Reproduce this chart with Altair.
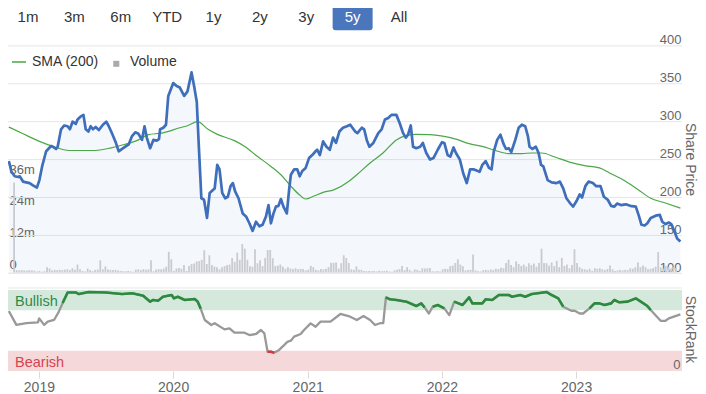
import altair as alt
import pandas as pd

# ---------------- data ----------------
BUTTONS = ["1m", "3m", "6m", "YTD", "1y", "2y", "3y", "5y", "All"]
SELECTED_BUTTON = "5y"

X_START = "2018-10-09"
X_END = "2023-10-16"
YEAR_TICKS = [2019, 2020, 2021, 2022, 2023]
PRICE_TICKS = [100, 150, 200, 250, 300, 350, 400]
VOLUME_TICKS = [0, 12, 24, 36]
RANK_TICKS = [0]
BANDS = ["Bullish", "Bearish"]
BAND_LOW = [75, 0]
BAND_HIGH = [100, 25]

# share price (decimal year, price)
PRICE_T = [
    2018.776, 2018.796, 2018.820, 2018.845, 2018.857, 2018.882, 2018.906, 2018.931, 2018.956, 2018.985,
    2019.004, 2019.024, 2019.054, 2019.091, 2019.103, 2019.128, 2019.140, 2019.165, 2019.189, 2019.214,
    2019.231, 2019.251, 2019.275, 2019.288, 2019.312, 2019.332, 2019.349, 2019.369, 2019.386, 2019.403,
    2019.423, 2019.447, 2019.477, 2019.502, 2019.521, 2019.546, 2019.570, 2019.595, 2019.620, 2019.644,
    2019.669, 2019.694, 2019.718, 2019.742, 2019.768, 2019.787, 2019.804, 2019.829, 2019.853, 2019.878,
    2019.895, 2019.903, 2019.927, 2019.947, 2019.964, 2019.982, 2020.001, 2020.026, 2020.050, 2020.082,
    2020.107, 2020.137, 2020.156, 2020.176, 2020.190, 2020.210, 2020.230, 2020.252, 2020.272, 2020.296,
    2020.309, 2020.328, 2020.345, 2020.365, 2020.387, 2020.407, 2020.427, 2020.444, 2020.461, 2020.486,
    2020.517, 2020.542, 2020.567, 2020.591, 2020.616, 2020.641, 2020.665, 2020.690, 2020.709, 2020.727,
    2020.746, 2020.764, 2020.783, 2020.801, 2020.820, 2020.845, 2020.862, 2020.875, 2020.899, 2020.923,
    2020.941, 2020.960, 2020.985, 2021.010, 2021.034, 2021.059, 2021.071, 2021.091, 2021.115, 2021.140,
    2021.165, 2021.189, 2021.211, 2021.236, 2021.263, 2021.292, 2021.317, 2021.354, 2021.371, 2021.403,
    2021.421, 2021.440, 2021.460, 2021.489, 2021.526, 2021.551, 2021.576, 2021.600, 2021.624, 2021.661,
    2021.686, 2021.711, 2021.731, 2021.748, 2021.768, 2021.785, 2021.809, 2021.838, 2021.858, 2021.883,
    2021.912, 2021.937, 2021.969, 2022.001, 2022.018, 2022.043, 2022.063, 2022.087, 2022.104, 2022.134,
    2022.159, 2022.185, 2022.210, 2022.240, 2022.281, 2022.301, 2022.326, 2022.351, 2022.370, 2022.387,
    2022.412, 2022.436, 2022.461, 2022.478, 2022.498, 2022.517, 2022.547, 2022.572, 2022.596, 2022.621,
    2022.641, 2022.653, 2022.675, 2022.700, 2022.720, 2022.739, 2022.756, 2022.768, 2022.788, 2022.818,
    2022.855, 2022.879, 2022.904, 2022.928, 2022.953, 2022.978, 2023.002, 2023.027, 2023.044, 2023.069,
    2023.093, 2023.125, 2023.150, 2023.182, 2023.207, 2023.236, 2023.261, 2023.285, 2023.305, 2023.334,
    2023.371, 2023.403, 2023.445, 2023.469, 2023.487, 2023.511, 2023.531, 2023.556, 2023.593, 2023.624,
    2023.642, 2023.666, 2023.691, 2023.709, 2023.733, 2023.753, 2023.777,
]
PRICE_V = [
    248, 234, 228, 227, 228, 221, 220, 219, 216, 213,
    223, 241, 261, 268, 267, 264, 267, 290, 295, 294,
    290, 300, 297, 303, 307, 309, 290, 287, 294, 290,
    293, 289, 296, 300, 294, 284, 274, 261, 264, 267,
    270, 281, 286, 284, 276, 294, 279, 265, 276, 275,
    277, 290, 292, 296, 334, 342, 351, 347, 345, 334,
    340, 365, 347, 326, 272, 199, 197, 173, 206, 210,
    212, 243, 237, 206, 199, 201, 215, 219, 208, 199,
    179, 175, 166, 156, 168, 162, 164, 175, 190, 166,
    179, 188, 189, 198, 188, 179, 210, 230, 237, 237,
    228, 235, 239, 252, 256, 261, 263, 256, 274, 267,
    263, 279, 272, 287, 292, 294, 296, 287, 285, 292,
    290, 276, 267, 272, 285, 290, 303, 305, 309, 309,
    298, 285, 279, 283, 295, 267, 265, 267, 272, 259,
    250, 252, 263, 273, 272, 256, 254, 266, 259, 250,
    232, 219, 237, 237, 234, 243, 248, 239, 237, 261,
    276, 283, 270, 264, 265, 260, 276, 292, 296, 294,
    281, 267, 264, 267, 259, 243, 241, 234, 223, 220,
    219, 221, 212, 199, 193, 188, 195, 204, 200, 215,
    221, 219, 215, 215, 201, 197, 189, 188, 192, 190,
    191, 189, 188, 175, 164, 163, 166, 173, 176, 177,
    168, 165, 167, 165, 155, 146, 142,
]

# 200-day simple moving average
SMA_T = [
    2018.776, 2018.882, 2019.004, 2019.103, 2019.226, 2019.399, 2019.497, 2019.595, 2019.742, 2019.816,
    2019.915, 2020.050, 2020.111, 2020.181, 2020.259, 2020.333, 2020.456, 2020.530, 2020.628, 2020.727,
    2020.801, 2020.875, 2020.936, 2020.985, 2021.047, 2021.120, 2021.194, 2021.305, 2021.366, 2021.465,
    2021.563, 2021.661, 2021.735, 2021.809, 2021.908, 2022.006, 2022.104, 2022.203, 2022.301, 2022.399,
    2022.498, 2022.596, 2022.670, 2022.744, 2022.842, 2022.965, 2023.064, 2023.174, 2023.261, 2023.359,
    2023.458, 2023.556, 2023.654, 2023.777,
]
SMA_V = [
    293, 284, 274, 267.5, 262, 262, 264, 268, 276, 283,
    285, 292, 295, 300, 290, 283, 275, 267.5, 254, 241,
    230, 215, 204, 198, 202, 207, 210, 221, 230, 245.5,
    259, 276, 281.6, 283.3, 283, 281, 277, 271, 267.5, 262,
    258, 258, 258.7, 258.7, 253.4, 246, 242, 239, 231.4, 222.5,
    211, 199, 193.4, 186,
]

# StockRank (0-100)
RANK_T = [
    2018.776, 2018.832, 2018.906, 2018.993, 2019.002, 2019.039, 2019.066, 2019.113, 2019.148, 2019.177,
    2019.214, 2019.275, 2019.297, 2019.371, 2019.497, 2019.620, 2019.694, 2019.777, 2019.829, 2019.851,
    2019.888, 2019.925, 2019.989, 2020.006, 2020.035, 2020.087, 2020.161, 2020.183, 2020.205, 2020.235,
    2020.284, 2020.309, 2020.382, 2020.419, 2020.456, 2020.530, 2020.567, 2020.616, 2020.653, 2020.678,
    2020.702, 2020.727, 2020.751, 2020.788, 2020.825, 2020.849, 2020.875, 2020.899, 2020.948, 2020.973,
    2021.022, 2021.059, 2021.096, 2021.170, 2021.244, 2021.317, 2021.366, 2021.416, 2021.465, 2021.502,
    2021.539, 2021.563, 2021.583, 2021.613, 2021.661, 2021.735, 2021.809, 2021.846, 2021.871, 2021.903,
    2021.932, 2021.969, 2022.018, 2022.055, 2022.092, 2022.154, 2022.203, 2022.227, 2022.301, 2022.326,
    2022.375, 2022.424, 2022.498, 2022.523, 2022.584, 2022.621, 2022.670, 2022.781, 2022.818, 2022.867,
    2022.904, 2022.965, 2022.990, 2023.027, 2023.052, 2023.100, 2023.137, 2023.174, 2023.211, 2023.261,
    2023.285, 2023.322, 2023.384, 2023.445, 2023.482, 2023.531, 2023.556, 2023.630, 2023.666, 2023.691,
    2023.777,
]
RANK_V = [
    74, 57, 59, 60, 65, 57, 61, 63, 73, 84,
    97, 97, 95, 97.5, 97, 95, 96, 93, 85.6, 87.7,
    86.8, 91.7, 93.8, 89.7, 91.7, 87.7, 88.9, 85.6, 77, 63,
    56.8, 59, 51.4, 52.7, 47.3, 47.3, 44.4, 45.7, 50.6, 46.5,
    23.8, 23.8, 22.5, 26, 32, 36, 37.4, 42.4, 45.7, 50.6,
    58.8, 54.7, 60.9, 60.9, 70.4, 67, 63, 68, 63, 56.8,
    59, 59, 91, 88.5, 87.7, 85.6, 80.2, 83.5, 78.6, 71,
    79.4, 81.5, 77.4, 69, 85.6, 81.5, 91, 83.5, 83.5, 88.5,
    87.7, 93.8, 93.8, 91.7, 93.8, 91.7, 95, 97.5, 93.8, 89.7,
    79.4, 74.4, 74.4, 71, 71, 77.4, 83.5, 83.5, 81.5, 83.5,
    87.7, 84.8, 85.6, 89.7, 85.6, 80.2, 75.3, 62, 62, 65,
    70,
]

# weekly volume, millions of shares
VOLUME_START = "2018-10-12"
VOLUME_M = [
    34, 0.9, 0.8, 0.9, 0.8, 0.7, 0.9, 0.8, 0.7, 0.4,
    0.6, 0.3, 0.5, 2.0, 1.5, 0.8, 1.0, 0.9, 1.0, 0.9,
    1.1, 1.2, 0.9, 1.6, 1.0, 3.0, 1.2, 0.6, 0.4, 1.5,
    0.9, 0.5, 1.0, 1.1, 4.6, 1.2, 2.3, 1.1, 1.0, 0.9,
    1.0, 0.8, 0.6, 0.5, 0.5, 0.6, 0.4, 0.3, 1.1, 1.2,
    0.9, 1.3, 1.0, 1.2, 4.6, 0.5, 1.1, 1.3, 1.2, 1.5,
    2.2, 7.8, 5.0, 0.6, 1.5, 1.7, 1.4, 2.8, 0.6, 2.5,
    3.2, 3.4, 4.2, 4.3, 4.8, 8.4, 3.2, 6.5, 2.8, 2.2,
    2.0, 1.2, 2.0, 2.4, 2.8, 3.0, 5.5, 4.0, 7.5, 4.8,
    10.7, 9.0, 4.8, 2.4, 2.2, 8.8, 3.5, 4.6, 2.4, 5.5,
    8.5, 8.5, 5.4, 2.4, 2.6, 3.0, 2.2, 1.4, 2.0, 1.5,
    1.3, 1.6, 1.2, 1.4, 1.3, 0.8, 1.1, 2.5, 2.0, 1.0,
    0.8, 1.3, 1.2, 1.4, 2.0, 3.7, 3.6, 3.8, 1.5, 3.5,
    6.5, 5.5, 3.6, 1.2, 1.0, 2.3, 1.0, 1.0, 0.6, 0.5,
    0.6, 0.5, 0.6, 0.4, 0.7, 0.5, 0.6, 0.7, 0.4, 0.3,
    0.8, 1.0, 1.3, 2.5, 0.9, 2.0, 1.0, 0.4, 1.2, 1.0,
    0.6, 1.6, 1.5, 1.6, 1.7, 0.5, 0.4, 0.6, 0.4, 1.2,
    1.4, 1.3, 2.4, 2.6, 3.6, 5.0, 3.0, 2.4, 0.8, 0.9,
    1.0, 6.8, 0.8, 0.5, 0.4, 0.9, 1.0, 0.8, 1.1, 1.0,
    1.4, 1.3, 1.8, 1.6, 3.6, 4.8, 2.8, 2.0, 4.2, 3.2,
    2.5, 3.0, 2.2, 3.5, 2.8, 3.4, 2.2, 3.6, 9.0, 3.6,
    3.5, 2.6, 3.8, 2.4, 4.4, 2.0, 5.5, 2.5, 3.0, 1.6,
    2.8, 8.8, 3.6, 2.0, 1.4, 1.2, 1.0, 1.4, 0.6, 1.6,
    1.4, 1.6, 1.2, 0.9, 1.3, 2.6, 1.2, 0.6, 0.8, 1.0,
    0.8, 1.0, 0.9, 1.6, 1.4, 2.0, 3.8, 2.0, 2.6, 2.0,
    1.2, 1.4, 1.6, 2.2, 7.7, 2.0, 1.5, 2.5, 2.0, 1.6,
    2.2, 1.8,
]


# ---------------- helpers ----------------
def year_to_ms(t):
    y = int(t)
    start = pd.Timestamp(year=y, month=1, day=1)
    days = (pd.Timestamp(year=y + 1, month=1, day=1) - start).days
    return int((start + pd.Timedelta(days=(t - y) * days)).value // 10**6)


def day_ms(s):
    return int(pd.Timestamp(s).value // 10**6)


START_MS, END_MS = day_ms(X_START), day_ms(X_END)

price_df = pd.DataFrame({"t": [year_to_ms(t) for t in PRICE_T], "price": PRICE_V})
sma_df = pd.DataFrame({"t": [year_to_ms(t) for t in SMA_T], "sma": SMA_V})
rank_df = pd.DataFrame({"t": [year_to_ms(t) for t in RANK_T], "rank": RANK_V})
rank_df["bull"] = [v if v >= 75 else None for v in RANK_V]
rank_df["bear"] = [v if v <= 25 else None for v in RANK_V]
vol_dates = pd.date_range(VOLUME_START, periods=len(VOLUME_M), freq="7D")
vol_df = pd.DataFrame({"t": (vol_dates.astype("int64") // 10**6).tolist(), "vol": VOLUME_M})
grid_df = pd.DataFrame({"v": PRICE_TICKS})
band_df = pd.DataFrame({"band": BANDS, "lo": BAND_LOW, "hi": BAND_HIGH})
btn_df = pd.DataFrame({"label": BUTTONS})
one = pd.DataFrame({"k": [0]})

# ---------------- layout / style ----------------
W, H = 690, 386
PLOT_W = 674
R_OFF = PLOT_W - W
FONT = "Liberation Sans"
GRID = "#e6e6e6"
LABEL = "#666666"
BLUE = "#3f6fbb"
GREEN_SMA = "#4aa846"
VOL_GRAY = "#c9cbd1"

T_SCALE = alt.Scale(type="utc", domain=[START_MS, END_MS], range=[0, PLOT_W])
PRICE_SCALE = alt.Scale(domain=[100, 400], range=[265.3, 37.9], zero=False, nice=False)
VOL_SCALE = alt.Scale(domain=[0, 48], range=[264.5, 137.3], zero=False, nice=False)
RANK_SCALE = alt.Scale(domain=[0, 100], range=[363.0, 282.0], zero=False, nice=False)
BTN_SCALE = alt.Scale(type="point", domain=BUTTONS, range=[20, 391], padding=0)


def tx():
    return alt.X("t:T", scale=T_SCALE, axis=None)


def x_start():
    return alt.X(datum=START_MS, type="temporal", scale=T_SCALE, axis=None)


def x_end():
    return alt.X2(datum=END_MS)


price_axis = alt.Axis(
    orient="right", offset=R_OFF, values=PRICE_TICKS, grid=False, domain=False,
    ticks=False, tickSize=0, labelAlign="right", labelPadding=-1,
    labelBaseline="alphabetic", labelOffset=-2, labelFontSize=13,
    labelColor=LABEL, labelOverlap=False, labelFlush=False,
    title="Share Price", titleAngle=90, titleX=7, titleY=151,
    titleAlign="center", titleBaseline="middle", titleFontSize=14,
    titleFontWeight="normal", titleColor=LABEL,
)
vol_axis = alt.Axis(
    orient="left", offset=0, values=VOLUME_TICKS, grid=False, domain=False,
    ticks=False, tickSize=0, labelAlign="left", labelPadding=-1,
    labelBaseline="alphabetic", labelOffset=-4, labelFontSize=13,
    labelColor=LABEL, labelOverlap=False, labelFlush=False,
    labelExpr="datum.value == 0 ? '0' : datum.value + 'm'", title=None,
)
rank_axis = alt.Axis(
    orient="right", offset=R_OFF, values=RANK_TICKS, grid=False, domain=False,
    ticks=False, tickSize=0, labelAlign="right", labelPadding=-2,
    labelBaseline="alphabetic", labelOffset=-3, labelFontSize=13,
    labelColor=LABEL, labelOverlap=False, labelFlush=False,
    title="StockRank", titleAngle=90, titleX=7, titleY=321,
    titleAlign="center", titleBaseline="middle", titleFontSize=14,
    titleFontWeight="normal", titleColor=LABEL, zindex=1,
)
year_axis = alt.Axis(
    orient="bottom", offset=-23, values=[day_ms(f"{y}-01-01") for y in YEAR_TICKS],
    format="%Y", grid=False, domain=False, ticks=True, tickSize=7,
    tickColor="#d9d9d9", labelFontSize=14, labelColor=LABEL, labelPadding=2,
    labelFlush=False, labelOverlap=False, title=None, zindex=1,
)

# ---------------- layers ----------------
grid = alt.Chart(grid_df).mark_rule(color=GRID, strokeWidth=1).encode(
    x=x_start(), x2=x_end(), y=alt.Y("v:Q", scale=PRICE_SCALE, axis=None)
)
area = alt.Chart(price_df).mark_area(color=BLUE, opacity=0.06).encode(
    x=tx(), y=alt.Y("price:Q", scale=PRICE_SCALE, axis=None), y2=alt.Y2(datum=100)
)
volume = alt.Chart(vol_df).mark_bar(color=VOL_GRAY, width=1.8).encode(
    x=tx(), y=alt.Y("vol:Q", scale=VOL_SCALE, axis=vol_axis), y2=alt.Y2(datum=0)
)
sma = alt.Chart(sma_df).mark_line(color=GREEN_SMA, strokeWidth=1.2, interpolate="monotone").encode(
    x=tx(), y=alt.Y("sma:Q", scale=PRICE_SCALE, axis=None)
)
price = alt.Chart(price_df).mark_line(color=BLUE, strokeWidth=2.7, strokeJoin="round").encode(
    x=tx(), y=alt.Y("price:Q", scale=PRICE_SCALE, axis=price_axis)
)

bands = alt.Chart(band_df).mark_rect().encode(
    x=x_start(), x2=x_end(),
    y=alt.Y("lo:Q", scale=RANK_SCALE, axis=None), y2="hi:Q",
    color=alt.Color("band:N", scale=alt.Scale(domain=BANDS, range=["#d4e9dc", "#f5d8d9"]), legend=None),
)
band_text = alt.Chart(band_df).transform_calculate(mid="(datum.lo + datum.hi) / 2").mark_text(
    align="left", baseline="middle", dx=7, dy=2, fontSize=14.5
).encode(
    x=x_start(), y=alt.Y("mid:Q", scale=RANK_SCALE, axis=None), text="band:N",
    color=alt.Color("band:N", scale=alt.Scale(domain=BANDS, range=["#2f8a4a", "#d64550"]), legend=None),
)
pane_top = alt.Chart(one).mark_rule(color=GRID, strokeWidth=1).encode(
    x=x_start(), x2=x_end(), y=alt.Y(datum=102.5, type="quantitative", scale=RANK_SCALE, axis=None)
)
rank_line = alt.Chart(rank_df).mark_line(color="#999999", strokeWidth=2.3, strokeJoin="round").encode(
    x=alt.X("t:T", scale=T_SCALE, axis=year_axis),
    y=alt.Y("rank:Q", scale=RANK_SCALE, axis=rank_axis),
)
rank_bull = alt.Chart(rank_df).mark_line(
    color="#2b8a3e", strokeWidth=2.6, strokeJoin="round", invalid="break-paths-show-domains"
).encode(x=tx(), y=alt.Y("bull:Q", scale=RANK_SCALE, axis=None))
rank_bear = alt.Chart(rank_df).mark_line(
    color="#d9383a", strokeWidth=2.6, strokeJoin="round", invalid="break-paths-show-domains"
).encode(x=tx(), y=alt.Y("bear:Q", scale=RANK_SCALE, axis=None))

BOX_PATH = ("M-0.85,-0.675L0.85,-0.675Q1,-0.675,1,-0.525L1,0.525Q1,0.675,0.85,0.675"
            "L-0.85,0.675Q-1,0.675,-1,0.525L-1,-0.525Q-1,-0.675,-0.85,-0.675Z")
btn_box = alt.Chart(btn_df).transform_filter(alt.datum.label == SELECTED_BUTTON).mark_point(
    shape=BOX_PATH, size=1600, filled=True, opacity=1, color="#4a76bd", strokeWidth=0
).encode(x=alt.X("label:N", scale=BTN_SCALE, axis=None), y=alt.value(8.7))
btn_text = alt.Chart(btn_df).mark_text(fontSize=15, baseline="middle").encode(
    x=alt.X("label:N", scale=BTN_SCALE, axis=None), y=alt.value(8.7), text="label:N",
    color=alt.condition(alt.datum.label == SELECTED_BUTTON, alt.value("#ffffff"), alt.value("#333333")),
)

leg_line = alt.Chart(one).mark_rule(color=GREEN_SMA, strokeWidth=1.5).encode(
    x=alt.value(4), x2=alt.value(18), y=alt.value(54)
)
leg_sma = alt.Chart(one).mark_text(text="SMA (200)", align="left", baseline="middle",
                                   fontSize=14, color="#333333").encode(x=alt.value(24), y=alt.value(54))
leg_sq = alt.Chart(one).mark_square(size=36, filled=True, opacity=1, color="#aaaaaa").encode(
    x=alt.value(108.3), y=alt.value(55.8)
)
leg_vol = alt.Chart(one).mark_text(text="Volume", align="left", baseline="middle",
                                   fontSize=14, color="#333333").encode(x=alt.value(122), y=alt.value(54))

chart = alt.layer(
    grid, area, volume, sma, price,
    bands, band_text, pane_top, rank_line, rank_bull, rank_bear,
    btn_box, btn_text, leg_line, leg_sma, leg_sq, leg_vol,
).resolve_scale(
    x="independent", y="independent", color="independent"
).properties(
    width=W, height=H, padding=0, autosize=alt.AutoSizeParams(type="none")
).configure(font=FONT).configure_view(stroke=None)

chart.save("out.html", embed_options={"renderer": "svg", "actions": False})
